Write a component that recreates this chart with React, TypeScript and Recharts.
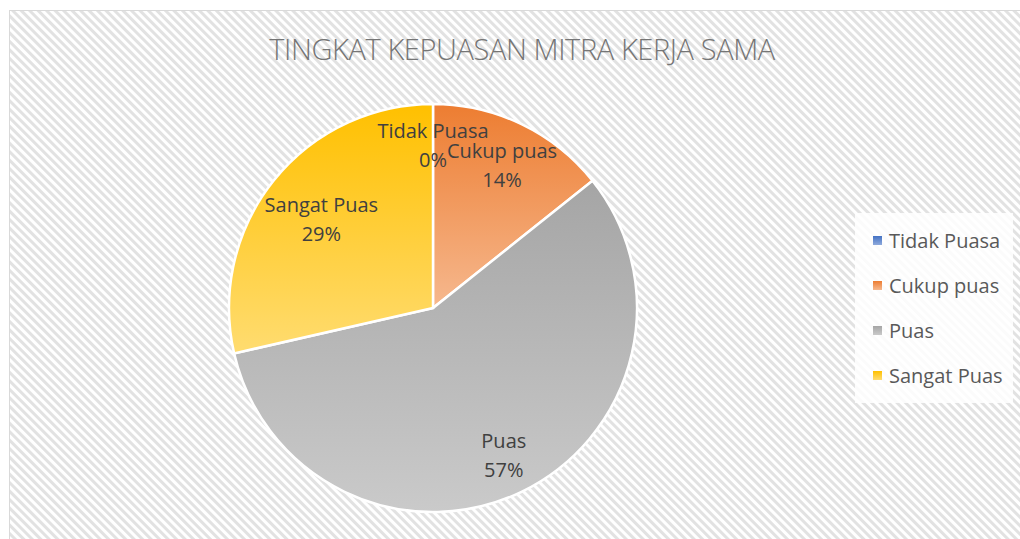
import React from 'react'
import { PieChart, Pie, Cell, Legend } from 'recharts'

const title = 'TINGKAT KEPUASAN MITRA KERJA SAMA'
const categories = ['Tidak Puasa', 'Cukup puas', 'Puas', 'Sangat Puas']
const counts = [0, 1, 4, 2]

const topColors = ['#4472C4', '#ED7D31', '#A5A5A5', '#FFC000']
const bottomColors = ['#8FAADC', '#F6B88E', '#CACACA', '#FFDC70']
const labelFactor = [0.8, 0.78, 0.8, 0.7]

const data = categories.map((name, i) => ({ name, value: counts[i] }))

const FONT = '"Open Sans", "Noto Sans", sans-serif'
const RADIAN = Math.PI / 180

const renderLabel = (props: any) => {
  const { cx, cy, midAngle, outerRadius, percent, index, name } = props
  const r = outerRadius * labelFactor[index]
  const x = cx + r * Math.cos(-midAngle * RADIAN)
  const y = cy + r * Math.sin(-midAngle * RADIAN)
  return (
    <text x={x} y={y} fill="#404040" fontSize={20} fontFamily={FONT} textAnchor="middle">
      <tspan x={x} dy={-7}>{name}</tspan>
      <tspan x={x} dy={29}>{`${Math.round(percent * 100)}%`}</tspan>
    </text>
  )
}

const LegendBox = () => (
  <div
    style={{
      background: 'rgba(255,255,255,0.85)',
      padding: '5px 0 5px 18px',
      fontFamily: FONT,
      fontSize: 20,
      color: '#595959',
      width: 140,
    }}
  >
    {categories.map((c, i) => (
      <div key={c} style={{ display: 'flex', alignItems: 'center', height: 45 }}>
        <span
          style={{
            display: 'inline-block',
            width: 9,
            height: 9,
            marginRight: 7,
            background: `linear-gradient(${topColors[i]}, ${bottomColors[i]})`,
          }}
        />
        <span style={{ whiteSpace: 'nowrap' }}>{c}</span>
      </div>
    ))}
  </div>
)

export default function App() {
  return (
    <div style={{ position: 'absolute', left: 0, top: 0, width: 1020, height: 539, background: '#fff' }}>
      <svg width={1020} height={539} style={{ position: 'absolute', left: 0, top: 0 }}>
        <defs>
          <pattern id="hatch" width={6} height={6} patternUnits="userSpaceOnUse" patternTransform="rotate(-45)">
            <rect width={6} height={6} fill="#ffffff" />
            <rect width={3} height={6} fill="#e2e2e2" />
          </pattern>
        </defs>
        <rect x={9.5} y={10.5} width={1020} height={540} fill="url(#hatch)" stroke="#d9d9d9" strokeWidth={1} />
      </svg>
      <div
        style={{
          position: 'absolute',
          left: 9,
          width: 1026,
          top: 29,
          textAlign: 'center',
          fontFamily: FONT,
          fontWeight: 300,
          fontSize: 29,
          letterSpacing: -0.4,
          color: '#757575',
        }}
      >
        {title}
      </div>
      <div style={{ position: 'absolute', left: 0, top: 0 }}>
        <PieChart width={1020} height={539} margin={{ top: 0, right: 0, bottom: 0, left: 0 }}>
          <defs>
            {topColors.map((c, i) => (
              <linearGradient key={c} id={`grad${i}`} x1="0" y1="0" x2="0" y2="1">
                <stop offset="0%" stopColor={c} />
                <stop offset="100%" stopColor={bottomColors[i]} />
              </linearGradient>
            ))}
          </defs>
          <Pie
            data={data}
            dataKey="value"
            nameKey="name"
            cx={433}
            cy={308}
            outerRadius={204}
            startAngle={90}
            endAngle={-270}
            stroke="#ffffff"
            strokeWidth={2.5}
            label={renderLabel}
            labelLine={false}
            isAnimationActive={false}
          >
            {data.map((d, i) => (
              <Cell key={d.name} fill={`url(#grad${i})`} />
            ))}
          </Pie>
          <Legend
            layout="vertical"
            align="right"
            verticalAlign="top"
            wrapperStyle={{ left: 855, top: 213, width: 158 }}
            content={() => <LegendBox />}
          />
        </PieChart>
      </div>
    </div>
  )
}
